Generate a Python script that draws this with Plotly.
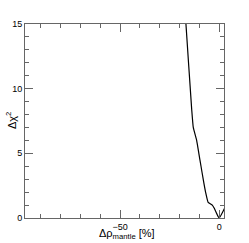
import plotly.graph_objects as go

# Data
drho = [-18.0, -16.8, -13.9, -13.1, -11.4, -10.3, -9.2, -8.1, -6.9, -5.6, -4.5, -3.5, -2.5, -0.5, 0.0, 2.5, 3.0]
dchi2 = [17.7, 15.0, 8.4, 7.0, 6.0, 5.0, 4.0, 3.0, 2.0, 1.2, 1.1, 1.0, 0.75, 0.1, 0.0, 0.7, 0.85]

x_ticks = [-50, 0]
x_ticklabels = ["\u221250", "0"]
y_ticks = [0, 5, 10, 15]

FONT = "Liberation Sans, Arial, sans-serif"

fig = go.Figure()
fig.add_trace(go.Scatter(x=drho, y=dchi2, mode="lines",
                         line=dict(color="black", width=1.2, shape="spline", smoothing=0.4),
                         showlegend=False, hoverinfo="skip"))

axis_common = dict(
    showgrid=False, zeroline=False, showline=True, linecolor="#666666", linewidth=1,
    mirror="allticks", ticks="inside", ticklen=8, tickwidth=1, tickcolor="#666666",
    tickfont=dict(family=FONT, size=9, color="black"), automargin=False,
)

fig.update_xaxes(range=[-98, 2.4], tickvals=x_ticks, ticktext=x_ticklabels,
                 minor=dict(dtick=10, tick0=0, ticks="inside", ticklen=4, tickcolor="#666666"),
                 **axis_common)
fig.update_yaxes(range=[0, 15], tickvals=y_ticks,
                 minor=dict(dtick=1, tick0=0, ticks="inside", ticklen=4, tickcolor="#666666"),
                 **axis_common)

fig.add_annotation(text="\u0394\u03c1<sub>mantle</sub> [%]", xref="paper", yref="paper",
                   x=0.515, y=-0.082, showarrow=False, xanchor="center", yanchor="middle",
                   font=dict(family=FONT, size=11, color="black"))
fig.add_annotation(text="\u0394\u03c7<sup>2</sup>", xref="paper", yref="paper",
                   x=-0.07, y=0.5, showarrow=False, xanchor="center", yanchor="middle",
                   textangle=-90, font=dict(family=FONT, size=11, color="black"))

fig.update_layout(width=249, height=243, margin=dict(l=25, r=25, t=24, b=25, autoexpand=False),
                  plot_bgcolor="white", paper_bgcolor="white")
fig.write_html("out.html", config={"displayModeBar": False},
               post_script="document.body.style.margin='0px';document.body.style.overflow='hidden';")
